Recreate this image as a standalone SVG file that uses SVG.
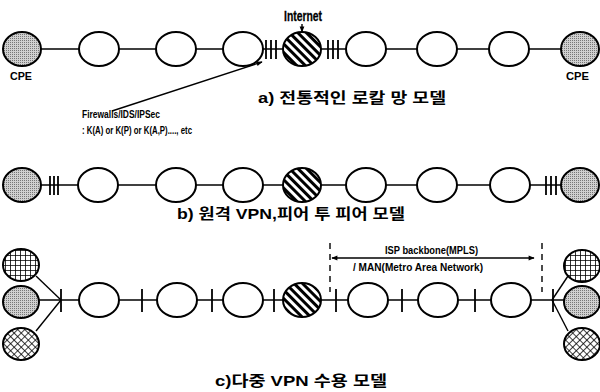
<svg xmlns="http://www.w3.org/2000/svg" width="600" height="392" viewBox="0 0 600 392">
<style>
.n{fill:#fff;stroke:#000;stroke-width:2}
.cpe{fill:url(#dots);stroke:#000;stroke-width:2}
.hat{fill:url(#hatch);stroke:#000;stroke-width:2}
.grid{fill:url(#grid);stroke:#000;stroke-width:2}
.xh{fill:url(#xh);stroke:#000;stroke-width:2}
.ln{stroke:#000;stroke-width:1.4;fill:none}
.tk{stroke:#000;stroke-width:1.8}
.t{font-family:"Liberation Sans",Arial,sans-serif;font-weight:bold;fill:#000}
.k{font-family:"Liberation Sans","Noto Sans CJK KR",sans-serif;font-weight:bold;fill:#000}
</style>
<defs>
<pattern id="dots" width="2" height="2" patternUnits="userSpaceOnUse"><rect width="2" height="2" fill="#d0d0d0"/><rect width="1" height="1" fill="#777"/></pattern>
<pattern id="hatch" width="6" height="6" patternUnits="userSpaceOnUse" patternTransform="rotate(-45)"><rect width="6" height="6" fill="#fff"/><rect width="3" height="6" fill="#000"/></pattern>
<pattern id="grid" width="5" height="5" patternUnits="userSpaceOnUse"><rect width="5" height="5" fill="#fff"/><path d="M0 0H5M0 0V5" stroke="#000" stroke-width="1.6"/></pattern>
<pattern id="xh" width="5" height="5" patternUnits="userSpaceOnUse" patternTransform="rotate(45)"><rect width="5" height="5" fill="#fff"/><path d="M0 0H5M0 0V5" stroke="#000" stroke-width="1.5"/></pattern>
<marker id="ah" viewBox="0 0 10 10" refX="9" refY="5" markerWidth="7" markerHeight="6" orient="auto-start-reverse" markerUnits="userSpaceOnUse"><path d="M0 1L10 5L0 9z" fill="#000"/></marker>
</defs>

<g id="connectors">
<!-- row a -->
<line class="ln" x1="24" y1="49" x2="581" y2="49"/>
<line class="tk" x1="266" y1="40" x2="266" y2="59"/><line class="tk" x1="271" y1="40" x2="271" y2="59"/><line class="tk" x1="276" y1="40" x2="276" y2="59"/>
<line class="tk" x1="328" y1="40" x2="328" y2="59"/><line class="tk" x1="333" y1="40" x2="333" y2="59"/><line class="tk" x1="338" y1="40" x2="338" y2="59"/>
<line class="ln" x1="302" y1="24" x2="302" y2="32" marker-end="url(#ah)"/>
<line class="ln" x1="112" y1="111" x2="262" y2="62" stroke-width="2" marker-end="url(#ah)"/>
<!-- row b -->
<line class="ln" x1="24" y1="185" x2="581" y2="185"/>
<line class="tk" x1="50" y1="176" x2="50" y2="195"/><line class="tk" x1="54" y1="176" x2="54" y2="195"/><line class="tk" x1="58" y1="176" x2="58" y2="195"/>
<line class="tk" x1="546" y1="176" x2="546" y2="195"/><line class="tk" x1="551" y1="176" x2="551" y2="195"/><line class="tk" x1="556" y1="176" x2="556" y2="195"/>
<!-- row c -->
<line class="ln" x1="24" y1="300" x2="581" y2="300"/>
<line class="ln" x1="36" y1="276" x2="61" y2="300"/>
<line class="ln" x1="36" y1="331" x2="61" y2="300"/>
<line class="ln" x1="568" y1="276" x2="552" y2="300"/>
<line class="ln" x1="568" y1="331" x2="552" y2="300"/>
<line class="tk" x1="61" y1="289" x2="61" y2="312"/>
<line class="tk" x1="142" y1="289" x2="142" y2="312"/>
<line class="tk" x1="212" y1="289" x2="212" y2="312"/>
<line class="tk" x1="274" y1="289" x2="274" y2="312"/>
<line class="tk" x1="336" y1="289" x2="336" y2="312"/>
<line class="tk" x1="402" y1="289" x2="402" y2="312"/>
<line class="tk" x1="475" y1="289" x2="475" y2="312"/>
<line class="tk" x1="553" y1="289" x2="553" y2="312"/>
<line class="ln" x1="330" y1="243" x2="330" y2="292" stroke-width="1.8" stroke-dasharray="6,5"/>
<line class="ln" x1="542" y1="243" x2="542" y2="292" stroke-width="1.8" stroke-dasharray="6,5"/>
<line class="ln" x1="332" y1="258" x2="534" y2="258" stroke-width="1.8" marker-start="url(#ah)" marker-end="url(#ah)"/>
</g>

<g id="a-cpe-l"><ellipse class="cpe" cx="22" cy="49" rx="19" ry="17"/><text class="t" x="10" y="80" font-size="11.5" textLength="22" lengthAdjust="spacingAndGlyphs">CPE</text></g>
<g id="a-n1"><ellipse class="n" cx="99" cy="49" rx="20" ry="17"/></g>
<g id="a-n2"><ellipse class="n" cx="176" cy="49" rx="20" ry="17"/></g>
<g id="a-n3"><ellipse class="n" cx="243" cy="49" rx="20" ry="17"/></g>
<g id="a-inet"><ellipse class="hat" cx="302" cy="49" rx="19" ry="17"/><text class="t" x="284" y="21" font-size="15" textLength="38" lengthAdjust="spacingAndGlyphs" font-weight="normal" stroke="#000" stroke-width="0.3">Internet</text></g>
<g id="a-n4"><ellipse class="n" cx="366" cy="49" rx="20" ry="17"/></g>
<g id="a-n5"><ellipse class="n" cx="437" cy="49" rx="20" ry="17"/></g>
<g id="a-n6"><ellipse class="n" cx="509" cy="49" rx="20" ry="17"/></g>
<g id="a-cpe-r"><ellipse class="cpe" cx="580" cy="49" rx="19" ry="17"/><text class="t" x="566" y="80" font-size="11.5" textLength="23" lengthAdjust="spacingAndGlyphs">CPE</text></g>
<g id="a-title"><text class="k" x="258" y="103" font-size="15" textLength="188" lengthAdjust="spacingAndGlyphs">a) 전통적인 로칼 망 모델</text></g>
<g id="fw-label">
<text class="t" x="82" y="118" font-size="10.5" textLength="78" lengthAdjust="spacingAndGlyphs">Firewalls/IDS/IPSec</text>
<text class="t" x="82" y="134" font-size="10.5" textLength="110" lengthAdjust="spacingAndGlyphs">: K(A) or K(P) or K(A,P)...., etc</text>
</g>

<g id="b-cpe-l"><ellipse class="cpe" cx="22" cy="185" rx="19" ry="17"/></g>
<g id="b-n1"><ellipse class="n" cx="98" cy="185" rx="20" ry="17"/></g>
<g id="b-n2"><ellipse class="n" cx="176" cy="185" rx="20" ry="17"/></g>
<g id="b-n3"><ellipse class="n" cx="243" cy="185" rx="20" ry="17"/></g>
<g id="b-inet"><ellipse class="hat" cx="302" cy="185" rx="19" ry="17"/></g>
<g id="b-n4"><ellipse class="n" cx="366" cy="185" rx="20" ry="17"/></g>
<g id="b-n5"><ellipse class="n" cx="437" cy="185" rx="20" ry="17"/></g>
<g id="b-n6"><ellipse class="n" cx="510" cy="185" rx="20" ry="17"/></g>
<g id="b-cpe-r"><ellipse class="cpe" cx="580" cy="185" rx="19" ry="17"/></g>
<g id="b-title"><text class="k" x="177" y="219" font-size="15" textLength="228" lengthAdjust="spacingAndGlyphs">b) 원격 VPN,피어 투 피어 모델</text></g>

<g id="c-l-top"><ellipse class="grid" cx="21" cy="265" rx="18" ry="16"/></g>
<g id="c-l-mid"><ellipse class="cpe" cx="21" cy="302" rx="18" ry="16"/></g>
<g id="c-l-bot"><ellipse class="xh" cx="21" cy="344" rx="18" ry="16"/></g>
<g id="c-n1"><ellipse class="n" cx="99" cy="300" rx="20" ry="17"/></g>
<g id="c-n2"><ellipse class="n" cx="177" cy="300" rx="20" ry="17"/></g>
<g id="c-n3"><ellipse class="n" cx="243" cy="300" rx="20" ry="17"/></g>
<g id="c-inet"><ellipse class="hat" cx="302" cy="300" rx="19" ry="17"/></g>
<g id="c-n4"><ellipse class="n" cx="368" cy="300" rx="20" ry="17"/></g>
<g id="c-n5"><ellipse class="n" cx="438" cy="300" rx="20" ry="17"/></g>
<g id="c-n6"><ellipse class="n" cx="511" cy="300" rx="20" ry="17"/></g>
<g id="c-r-top"><ellipse class="grid" cx="582" cy="266" rx="18" ry="16"/></g>
<g id="c-r-mid"><ellipse class="cpe" cx="582" cy="302" rx="18" ry="16"/></g>
<g id="c-r-bot"><ellipse class="xh" cx="582" cy="344" rx="18" ry="16"/></g>
<g id="isp-label">
<text class="t" x="385" y="254" font-size="10.5" textLength="93" lengthAdjust="spacingAndGlyphs">ISP backbone(MPLS)</text>
<text class="t" x="353" y="271" font-size="10.5" textLength="130" lengthAdjust="spacingAndGlyphs">/ MAN(Metro Area Network)</text>
</g>
<g id="c-title"><text class="k" x="215" y="386" font-size="15" textLength="172" lengthAdjust="spacingAndGlyphs">c)다중 VPN 수용 모델</text></g>
</svg>
